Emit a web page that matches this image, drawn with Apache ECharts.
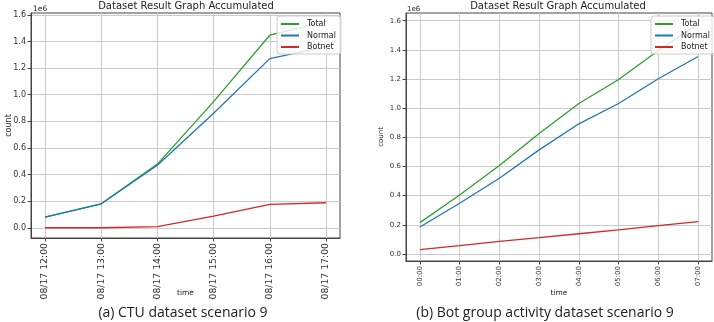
<!DOCTYPE html>
<html>
<head>
<meta charset="utf-8">
<script src="https://cdn.jsdelivr.net/npm/echarts@6/dist/echarts.min.js"></script>
<style>
  html, body { margin: 0; padding: 0; background: #fff; }
  #chart { width: 714px; height: 322px; }
</style>
</head>
<body>
<div id="chart"></div>
<script>
// (a) CTU dataset scenario 9
const timesA = ['08/17 12:00', '08/17 13:00', '08/17 14:00', '08/17 15:00', '08/17 16:00', '08/17 17:00'];
const totalA = [80000, 180000, 478000, 948000, 1447000, 1549000];
const normalA = [80000, 180000, 470000, 860000, 1271000, 1361000];
const botnetA = [0, 0, 8000, 88000, 176000, 188000];

// (b) Bot group activity dataset scenario 9
const timesB = ['00:00', '01:00', '02:00', '03:00', '04:00', '05:00', '06:00', '07:00'];
const totalB = [215000, 405000, 607000, 826000, 1032000, 1197000, 1396000, 1577000];
const normalB = [185000, 348000, 520000, 714000, 893000, 1032000, 1202000, 1355000];
const botnetB = [30000, 57000, 87000, 112000, 139000, 165000, 194000, 222000];

const yTicks = [0, 200000, 400000, 600000, 800000, 1000000, 1200000, 1400000, 1600000];
const seriesNames = ['Total', 'Normal', 'Botnet'];
const colors = { Total: '#2ca02c', Normal: '#1f77b4', Botnet: '#d62728' };

const font = 'DejaVu Sans';
const frame = '#444';
const gridCol = '#cbcbcb';

function xAxis(gridIndex, cats, fs, nameGap) {
  const idx = cats.map((_, i) => i);
  const pad = (cats.length - 1) * 0.05;
  return {
    type: 'value', gridIndex, min: -pad, max: cats.length - 1 + pad,
    name: 'time', nameLocation: 'middle', nameGap, nameMoveOverlap: false,
    nameTextStyle: { fontFamily: font, fontSize: 7.5, color: '#222' },
    axisLine: { show: true, onZero: false, lineStyle: { color: frame, width: 1 } },
    axisTick: { show: true, customValues: idx, length: 3.5, lineStyle: { color: frame } },
    axisLabel: { customValues: idx, rotate: 90, fontFamily: font, fontSize: fs, color: '#333', margin: 5,
      formatter: v => cats[Math.round(v)] },
    splitLine: { show: true, lineStyle: { color: gridCol, width: 1 } }
  };
}

function yAxis(gridIndex, min, max, fs, nameGap) {
  return {
    type: 'value', gridIndex, min, max,
    name: 'count', nameLocation: 'middle', nameGap, nameMoveOverlap: false,
    nameTextStyle: { fontFamily: font, fontSize: fs === 7 ? 7 : 8, color: '#222' },
    axisLine: { show: true, onZero: false, lineStyle: { color: frame, width: 1 } },
    axisTick: { show: true, customValues: yTicks, length: 3.5, lineStyle: { color: frame } },
    axisLabel: { customValues: yTicks, fontFamily: font, fontSize: fs, color: '#333', margin: 5,
      formatter: v => (v / 1e6).toFixed(1) },
    splitLine: { show: true, lineStyle: { color: gridCol, width: 1 } }
  };
}

function lines(axisIndex, vals) {
  return seriesNames.map((name, k) => ({
    name, type: 'line', xAxisIndex: axisIndex, yAxisIndex: axisIndex,
    symbol: 'none', animation: false,
    lineStyle: { color: colors[name], width: 1.3 },
    itemStyle: { color: colors[name] },
    data: vals[k].map((v, i) => [i, v])
  }));
}

function legend(left) {
  return {
    left, top: 16, orient: 'vertical', data: seriesNames,
    icon: 'rect', itemWidth: 18, itemHeight: 2, itemGap: 3.5,
    backgroundColor: 'rgba(255,255,255,0.8)', borderColor: '#cccccc', borderWidth: 1, borderRadius: 3,
    padding: [4, 5, 3, 4], selectedMode: false,
    textStyle: { fontFamily: font, fontSize: 8, color: '#222', padding: [0, 0, 0, 3] }
  };
}

function label(x, y, text, size, fam, align) {
  return { type: 'text', x, y, style: { text, fontFamily: fam, fontSize: size, fill: '#222',
    align: align || 'center', verticalAlign: 'middle' } };
}

const chart = echarts.init(document.getElementById('chart'), null, { renderer: 'canvas' });
chart.setOption({
  backgroundColor: '#fff',
  animation: false,
  grid: [
    { left: 31, top: 13, width: 309, height: 225, show: true, borderColor: frame, borderWidth: 1, backgroundColor: 'transparent' },
    { left: 406, top: 13, width: 306, height: 248, show: true, borderColor: frame, borderWidth: 1, backgroundColor: 'transparent' }
  ],
  xAxis: [xAxis(0, timesA, 9.3, 51), xAxis(1, timesB, 7, 28)],
  yAxis: [yAxis(0, -77000, 1614000, 8, 18), yAxis(1, -48000, 1653000, 7, 21)],
  legend: [legend(277), legend(651)],
  series: [...lines(0, [totalA, normalA, botnetA]), ...lines(1, [totalB, normalB, botnetB])],
  graphic: [
    label(186, 6, 'Dataset Result Graph Accumulated', 10, font),
    label(558, 6, 'Dataset Result Graph Accumulated', 10, font),
    label(33, 9, '1e6', 7.5, font, 'left'),
    label(407, 9, '1e6', 7, font, 'left'),
    label(183, 313, '(a) CTU dataset scenario 9', 14, 'Open Sans'),
    label(545, 313, '(b) Bot group activity dataset scenario 9', 14, 'Open Sans')
  ]
});
</script>
</body>
</html>
